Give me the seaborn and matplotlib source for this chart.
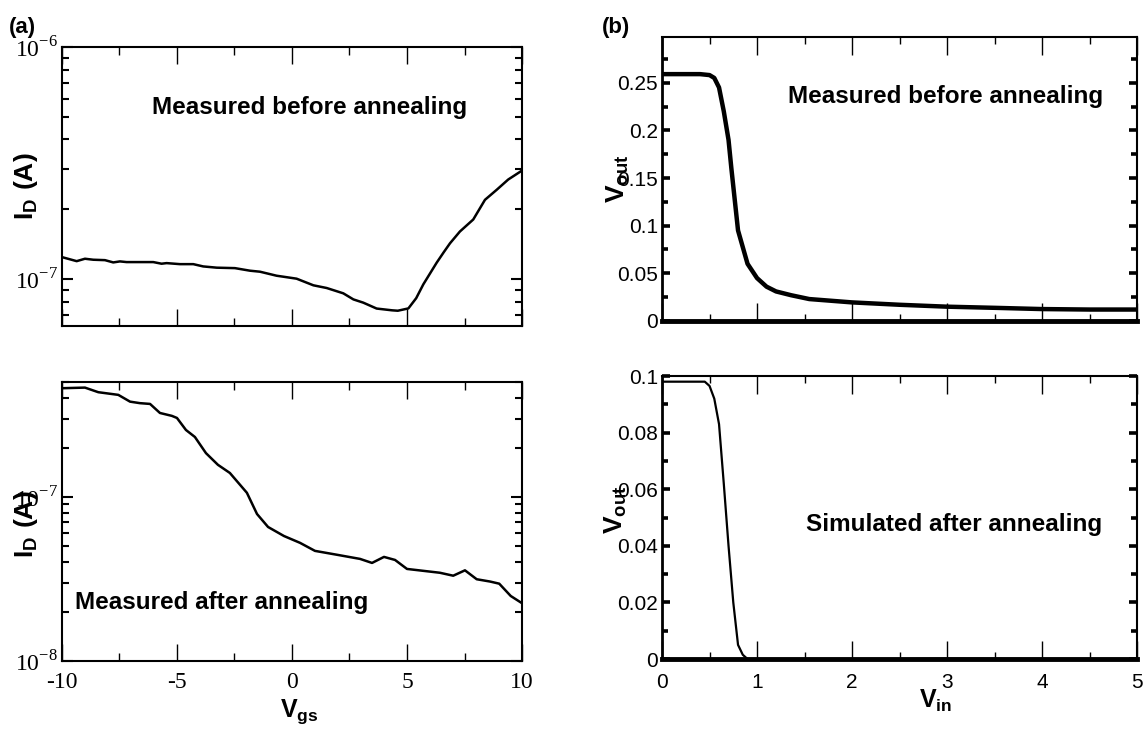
import numpy as np
import pandas as pd
import matplotlib
matplotlib.use('Agg')
import matplotlib.pyplot as plt
import seaborn as sns
from matplotlib.ticker import FixedLocator, MultipleLocator, FuncFormatter, NullFormatter, LogLocator

# (a) I_D vs V_gs, measured before annealing
vgs_before = [-10, -9.36, -9.0, -8.64, -8.13, -7.77, -7.48, -7.19, -6.03, -5.67, -5.45, -4.87, -4.29,
              -3.86, -3.27, -2.48, -1.83, -1.39, -0.67, -0.38, 0.2, 0.93, 1.51, 2.23, 2.67, 3.1, 3.68,
              4.35, 4.6, 5.06, 5.4, 5.71, 6.0, 6.29, 6.6, 6.87, 7.3, 7.88, 8.39, 8.9, 9.4, 10]
id_before = [1.247e-7, 1.198e-7, 1.227e-7, 1.215e-7, 1.21e-7, 1.183e-7, 1.195e-7, 1.187e-7, 1.187e-7,
             1.168e-7, 1.175e-7, 1.163e-7, 1.163e-7, 1.137e-7, 1.123e-7, 1.118e-7, 1.09e-7, 1.079e-7,
             1.037e-7, 1.027e-7, 1.007e-7, 9.43e-8, 9.18e-8, 8.71e-8, 8.2e-8, 7.94e-8, 7.49e-8,
             7.36e-8, 7.33e-8, 7.5e-8, 8.3e-8, 9.52e-8, 1.06e-7, 1.18e-7, 1.31e-7, 1.43e-7, 1.607e-7,
             1.81e-7, 2.2e-7, 2.43e-7, 2.69e-7, 2.94e-7]

# (a) I_D vs V_gs, measured after annealing
vgs_after = [-10, -9.0, -8.42, -7.55, -7.04, -6.61, -6.17, -5.74, -5.22, -5.0, -4.61, -4.22, -3.74,
             -3.22, -2.70, -1.96, -1.52, -1.04, -0.35, 0.35, 1.0, 2.0, 2.96, 3.48, 4.0, 4.48, 5.0,
             6.43, 7.01, 7.52, 8.03, 8.61, 9.01, 9.51, 10]
id_after = [4.6e-7, 4.64e-7, 4.35e-7, 4.19e-7, 3.81e-7, 3.73e-7, 3.69e-7, 3.25e-7, 3.12e-7, 3.03e-7,
            2.56e-7, 2.32e-7, 1.85e-7, 1.57e-7, 1.40e-7, 1.06e-7, 7.87e-8, 6.56e-8, 5.78e-8, 5.25e-8,
            4.69e-8, 4.43e-8, 4.19e-8, 3.96e-8, 4.31e-8, 4.13e-8, 3.64e-8, 3.45e-8, 3.31e-8, 3.57e-8,
            3.15e-8, 3.05e-8, 2.96e-8, 2.49e-8, 2.25e-8]

# (b) V_out vs V_in
vin_meas = [0, 0.2, 0.4, 0.5, 0.55, 0.6, 0.65, 0.7, 0.73, 0.8, 0.9, 1.0, 1.1, 1.2, 1.36, 1.55, 2.0,
            2.5, 3.0, 3.5, 4.0, 4.5, 5.0]
vout_meas = [0.259, 0.259, 0.259, 0.258, 0.255, 0.245, 0.22, 0.19, 0.16, 0.095, 0.06, 0.045, 0.036,
             0.031, 0.027, 0.023, 0.0195, 0.017, 0.015, 0.0138, 0.0125, 0.012, 0.012]
vin_sim = [0, 0.2, 0.45, 0.5, 0.55, 0.6, 0.65, 0.7, 0.75, 0.8, 0.85, 0.9, 1.0, 2.0, 3.0, 4.0, 5.0]
vout_sim = [0.098, 0.098, 0.098, 0.0965, 0.092, 0.083, 0.062, 0.04, 0.02, 0.005, 0.0015, 0.0,
            -0.0002, -0.0002, 0.0001, 0.0, 0.0]

sns.set_style('ticks')
plt.rcParams['font.family'] = ['Liberation Sans', 'DejaVu Sans']
plt.rcParams['mathtext.fontset'] = 'custom'
plt.rcParams['mathtext.rm'] = 'Liberation Serif'
plt.rcParams['mathtext.bf'] = 'Liberation Sans:bold'
plt.rcParams['axes.unicode_minus'] = False
for k in ['text.color', 'axes.labelcolor', 'xtick.color', 'ytick.color', 'axes.edgecolor']:
    plt.rcParams[k] = 'black'

fig = plt.figure(figsize=(11.43, 7.29), dpi=100)
ax_a1 = fig.add_axes([0.0542, 0.5528, 0.4025, 0.3827])
ax_a2 = fig.add_axes([0.0542, 0.0933, 0.4025, 0.3827])
ax_b1 = fig.add_axes([0.5792, 0.5597, 0.4156, 0.3896])
ax_b2 = fig.add_axes([0.5792, 0.0960, 0.4156, 0.3882])

df_before = pd.DataFrame({'vgs': vgs_before, 'id': id_before})
df_after = pd.DataFrame({'vgs': vgs_after, 'id': id_after})
df_meas = pd.DataFrame({'vin': vin_meas, 'vout': vout_meas})
df_sim = pd.DataFrame({'vin': vin_sim, 'vout': vout_sim})

sns.lineplot(data=df_before, x='vgs', y='id', ax=ax_a1, color='black', lw=1.8, estimator=None, sort=False)
sns.lineplot(data=df_after, x='vgs', y='id', ax=ax_a2, color='black', lw=1.8, estimator=None, sort=False)
sns.lineplot(data=df_meas, x='vin', y='vout', ax=ax_b1, color='black', lw=3.2, estimator=None, sort=False)
sns.lineplot(data=df_sim, x='vin', y='vout', ax=ax_b2, color='black', lw=1.6, estimator=None, sort=False)


def exp_fmt(v, p):
    return r'$10^{%d}$' % int(round(np.log10(v)))


for ax, lim in [(ax_a1, (6.3e-8, 1e-6)), (ax_a2, (1e-8, 5.02e-7))]:
    ax.set_yscale('log')
    ax.set_xlim(-10, 10)
    ax.set_ylim(*lim)
    ax.xaxis.set_major_locator(MultipleLocator(5))
    ax.xaxis.set_minor_locator(MultipleLocator(2.5))
    ax.yaxis.set_major_locator(FixedLocator([1e-8, 1e-7, 1e-6]))
    ax.yaxis.set_minor_locator(LogLocator(base=10, subs=np.arange(2, 10)))
    ax.yaxis.set_major_formatter(FuncFormatter(exp_fmt))
    ax.yaxis.set_minor_formatter(NullFormatter())
    ax.xaxis.set_major_formatter(FuncFormatter(lambda v, p: '%d' % v))
    ax.tick_params(axis='x', which='major', direction='in', length=12, width=1.0, top=True,
                   labelsize=17, labelfontfamily='Liberation Serif', pad=8)
    ax.tick_params(axis='x', which='minor', direction='in', length=6, width=1.0, top=True)
    ax.tick_params(axis='y', which='major', direction='in', length=8, width=1.5, right=True,
                   labelsize=17, pad=3)
    ax.tick_params(axis='y', which='minor', direction='in', length=5, width=1.5, right=True)
    for s in ax.spines.values():
        s.set_linewidth(1.5)
    ax.set_ylabel(r'$\mathbf{I_D\ (A)}$', fontsize=19)
    ax.set_xlabel('')

ax_a1.tick_params(axis='x', labelbottom=False)
ax_a1.yaxis.set_label_coords(-0.048, 0.5)
ax_a2.yaxis.set_label_coords(-0.048, 0.49)
ax_a2.set_xlabel(r'$\mathbf{V_{gs}}$', fontsize=18)
ax_a2.xaxis.set_label_coords(0.517, -0.13)

for ax, top, major, minor in [(ax_b1, 0.298, 0.05, 0.025), (ax_b2, 0.1, 0.02, 0.01)]:
    ax.set_xlim(0, 5)
    ax.set_ylim(0, top)
    ax.xaxis.set_major_locator(MultipleLocator(1))
    ax.xaxis.set_minor_locator(MultipleLocator(0.5))
    ax.yaxis.set_major_locator(MultipleLocator(major))
    ax.yaxis.set_minor_locator(MultipleLocator(minor))
    ax.xaxis.set_major_formatter(FuncFormatter(lambda v, p: '%g' % v))
    ax.yaxis.set_major_formatter(FuncFormatter(lambda v, p: '%g' % round(v, 4)))
    ax.tick_params(axis='x', which='major', direction='in', length=13, width=1.0, top=True,
                   labelsize=15, pad=10)
    ax.tick_params(axis='x', which='minor', direction='in', length=5, width=1.0, top=True)
    ax.tick_params(axis='y', which='major', direction='in', length=6, width=2.6, right=True,
                   labelsize=15, pad=3)
    ax.tick_params(axis='y', which='minor', direction='in', length=4, width=2.6, right=True)
    ax.spines['left'].set_linewidth(2.0)
    ax.spines['right'].set_linewidth(1.5)
    ax.spines['top'].set_linewidth(1.5)
    ax.spines['bottom'].set_linewidth(3.5)
    ax.set_ylabel(r'$\mathbf{V_{out}}$', fontsize=19)
    ax.set_xlabel('')

ax_b1.tick_params(axis='x', labelbottom=False)
ax_b1.yaxis.set_label_coords(-0.066, 0.5)
ax_b2.yaxis.set_label_coords(-0.07, 0.527)
ax_b2.set_xlabel(r'$\mathbf{V_{in}}$', fontsize=18)
ax_b2.xaxis.set_label_coords(0.575, -0.1)

ax_a1.text(0.539, 0.785, 'Measured before annealing', transform=ax_a1.transAxes,
           ha='center', va='center', fontsize=17.5, fontweight='bold')
ax_a2.text(0.346, 0.211, 'Measured after annealing', transform=ax_a2.transAxes,
           ha='center', va='center', fontsize=17.5, fontweight='bold')
ax_b1.text(0.596, 0.789, 'Measured before annealing', transform=ax_b1.transAxes,
           ha='center', va='center', fontsize=17.5, fontweight='bold')
ax_b2.text(0.615, 0.477, 'Simulated after annealing', transform=ax_b2.transAxes,
           ha='center', va='center', fontsize=17.5, fontweight='bold')

fig.text(0.008, 0.962, '(a)', fontsize=16, fontweight='bold', va='center', ha='left')
fig.text(0.527, 0.962, '(b)', fontsize=16, fontweight='bold', va='center', ha='left')

fig.savefig('out.png', dpi=100)
